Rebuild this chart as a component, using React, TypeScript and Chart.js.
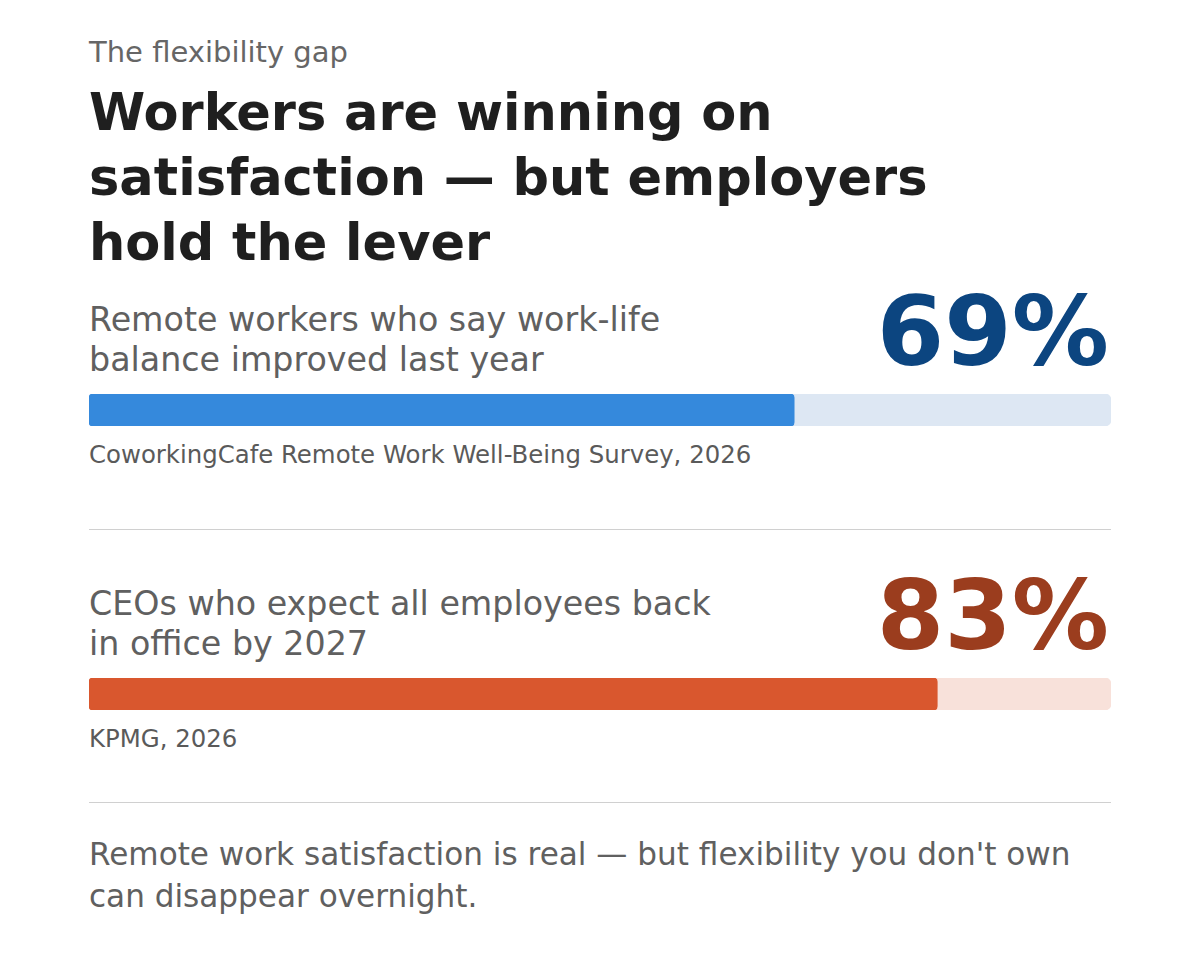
import React, { useEffect, useRef } from "react";
import { Chart, registerables } from "chart.js";

Chart.register(...registerables);

const kicker = "The flexibility gap";
const headline = "Workers are winning on satisfaction — but employers hold the lever";
const statLabels = [
  "Remote workers who say work-life balance improved last year",
  "CEOs who expect all employees back in office by 2027",
];
const statValues = [69, 83];
const statSources = ["CoworkingCafe Remote Work Well-Being Survey, 2026", "KPMG, 2026"];
const statColors = ["#3589dc", "#d9572e"];
const trackColors = ["#dde7f3", "#f8e1da"];
const numberColors = ["#0c4580", "#9b3d1e"];
const footer = "Remote work satisfaction is real — but flexibility you don't own can disappear overnight.";

const FONT = "'DejaVu Sans', sans-serif";

function Bar({ value, color, track }: { value: number; color: string; track: string }) {
  const ref = useRef<HTMLCanvasElement | null>(null);
  useEffect(() => {
    if (!ref.current) return;
    const chart = new Chart(ref.current, {
      type: "bar",
      data: {
        labels: [""],
        datasets: [
          {
            data: [value],
            backgroundColor: color,
            borderRadius: 4,
            borderSkipped: false,
            barPercentage: 1,
            categoryPercentage: 1,
            grouped: false,
            order: 0,
          },
          {
            data: [100],
            backgroundColor: track,
            borderRadius: 6,
            borderSkipped: false,
            barPercentage: 1,
            categoryPercentage: 1,
            grouped: false,
            order: 1,
          },
        ],
      },
      options: {
        indexAxis: "y",
        animation: false,
        responsive: false,
        layout: { padding: 0 },
        plugins: { legend: { display: false }, tooltip: { enabled: false } },
        scales: {
          x: { display: false, min: 0, max: 100 },
          y: { display: false },
        },
      },
    });
    return () => chart.destroy();
  }, [value, color, track]);
  return <canvas ref={ref} width={1022} height={32} style={{ display: "block" }} />;
}

export default function App() {
  const offsets = [0, 284];
  return (
    <div style={{ position: "absolute", left: 0, top: 0, width: 1200, height: 960, background: "#fff", fontFamily: FONT }}>
      <div style={{ position: "absolute", left: 89, top: 35, fontSize: 29, lineHeight: "35px", color: "#666" }}>{kicker}</div>
      <div style={{ position: "absolute", left: 89, top: 80, width: 900, fontSize: 51, lineHeight: "65px", fontWeight: 700, color: "#1f1f1f" }}>
        {headline}
      </div>
      {statValues.map((v, i) => (
        <React.Fragment key={i}>
          <div style={{ position: "absolute", left: 89, top: 300 + offsets[i], width: 650, fontSize: 33.3, lineHeight: "40px", color: "#606060" }}>
            {statLabels[i]}
          </div>
          <div style={{ position: "absolute", right: 91, top: 283 + offsets[i], fontSize: 97, lineHeight: "97px", fontWeight: 700, color: numberColors[i] }}>
            {v}%
          </div>
          <div style={{ position: "absolute", left: 89, top: 394 + offsets[i] }}>
            <Bar value={v} color={statColors[i]} track={trackColors[i]} />
          </div>
          <div style={{ position: "absolute", left: 89, top: 442 + offsets[i], fontSize: 24.4, lineHeight: "26px", color: "#5a5a5a" }}>
            {statSources[i]}
          </div>
        </React.Fragment>
      ))}
      <div style={{ position: "absolute", left: 89, top: 529, width: 1022, height: 1, background: "#d0d0d0" }} />
      <div style={{ position: "absolute", left: 89, top: 802, width: 1022, height: 1, background: "#d0d0d0" }} />
      <div style={{ position: "absolute", left: 89, top: 833, width: 1022, fontSize: 31.1, lineHeight: "42px", color: "#606060" }}>{footer}</div>
    </div>
  );
}
